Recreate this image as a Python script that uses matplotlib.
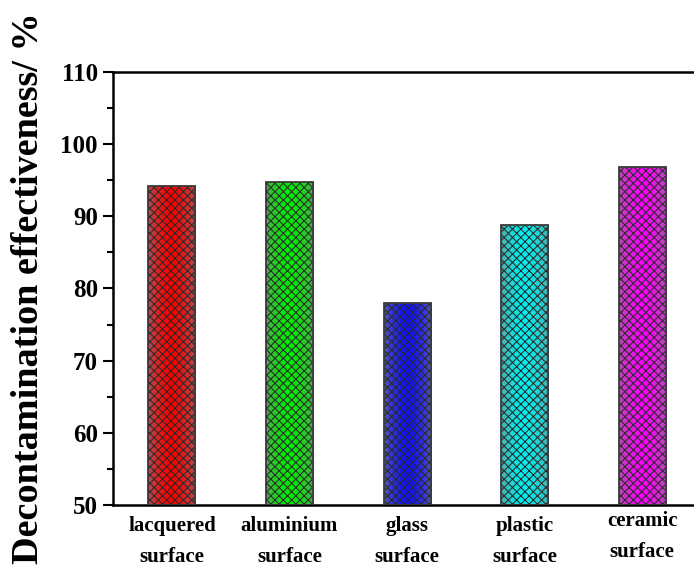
import numpy as np
import matplotlib
matplotlib.use("Agg")
import matplotlib.pyplot as plt
from matplotlib.colors import to_rgb
from matplotlib.transforms import ScaledTranslation

# Decontamination results per surface type
surfaces = ["lacquered\nsurface", "aluminium\nsurface", "glass\nsurface",
            "plastic\nsurface", "ceramic\nsurface"]
effectiveness = [94.2, 94.7, 78.0, 88.8, 96.8]
bar_colors = ["#ff0000", "#00ee00", "#1010ff", "#00f0f0", "#ff00ff"]
y_ticks = [50, 60, 70, 80, 90, 100, 110]

plt.rcParams["font.family"] = ["Liberation Serif", "DejaVu Serif"]
plt.rcParams["font.weight"] = "bold"
plt.rcParams["hatch.linewidth"] = 0.75

fig = plt.figure(figsize=(6.94, 5.70), dpi=100)
ax = fig.add_axes([0.163, 0.114, 0.837, 0.760])

x = np.arange(1, len(surfaces) + 1)
width = 0.4
ymin, ymax = 50, 110

# gradient fill: bright colour in the middle, greyish towards the edges
prof = np.linspace(-1, 1, 64)
w = 1 - 0.6 * np.abs(prof) ** 1.5
gray = np.array([0.5, 0.5, 0.5])

bars = ax.bar(x, np.array(effectiveness) - ymin, width, bottom=ymin,
              facecolor="none", edgecolor="none", zorder=2)
for xi, val, col, b in zip(x, effectiveness, bar_colors, bars):
    c = np.array(to_rgb(col))
    img = gray[None, :] * (1 - w[:, None]) + c[None, :] * w[:, None]
    img = img[None, :, :]
    im = ax.imshow(img, extent=(xi - width / 2, xi + width / 2, ymin, val),
                   aspect="auto", zorder=1, interpolation="bilinear")
    im.set_clip_path(b)

# crosshatch overlay and outline
ax.bar(x, np.array(effectiveness) - ymin, width, bottom=ymin,
       facecolor="none", edgecolor="#2a2a2a", hatch="xxxx", linewidth=0, zorder=3)
ax.bar(x, np.array(effectiveness) - ymin, width, bottom=ymin,
       facecolor="none", edgecolor="#3a3a3a", linewidth=1.3, zorder=4)

ax.set_xlim(0.5, 5.44)
ax.set_ylim(ymin, ymax)
ax.set_yticks(y_ticks)
ax.set_yticks(np.arange(55, 110, 10), minor=True)
ax.set_xticks(x)
ax.set_xticklabels(surfaces, fontsize=15, fontweight="bold", linespacing=1.7)
ax.tick_params(axis="x", length=0, pad=8)
ax.tick_params(axis="y", which="major", direction="out", length=7, width=1.5,
               labelsize=18, pad=4)
ax.tick_params(axis="y", which="minor", direction="out", length=4, width=1.5)
for lab in ax.get_yticklabels():
    lab.set_fontweight("bold")

# ceramic label sits a little higher
last = ax.get_xticklabels()[-1]
last.set_transform(last.get_transform() + ScaledTranslation(0, 3.5 / 72, fig.dpi_scale_trans))

for s in ["left", "bottom", "top"]:
    ax.spines[s].set_linewidth(1.8)
ax.spines["right"].set_visible(False)

ax.set_ylabel("Decontamination effectiveness/ %", fontsize=27.5, fontweight="bold",
              labelpad=10)

fig.savefig("out.png", dpi=100)
